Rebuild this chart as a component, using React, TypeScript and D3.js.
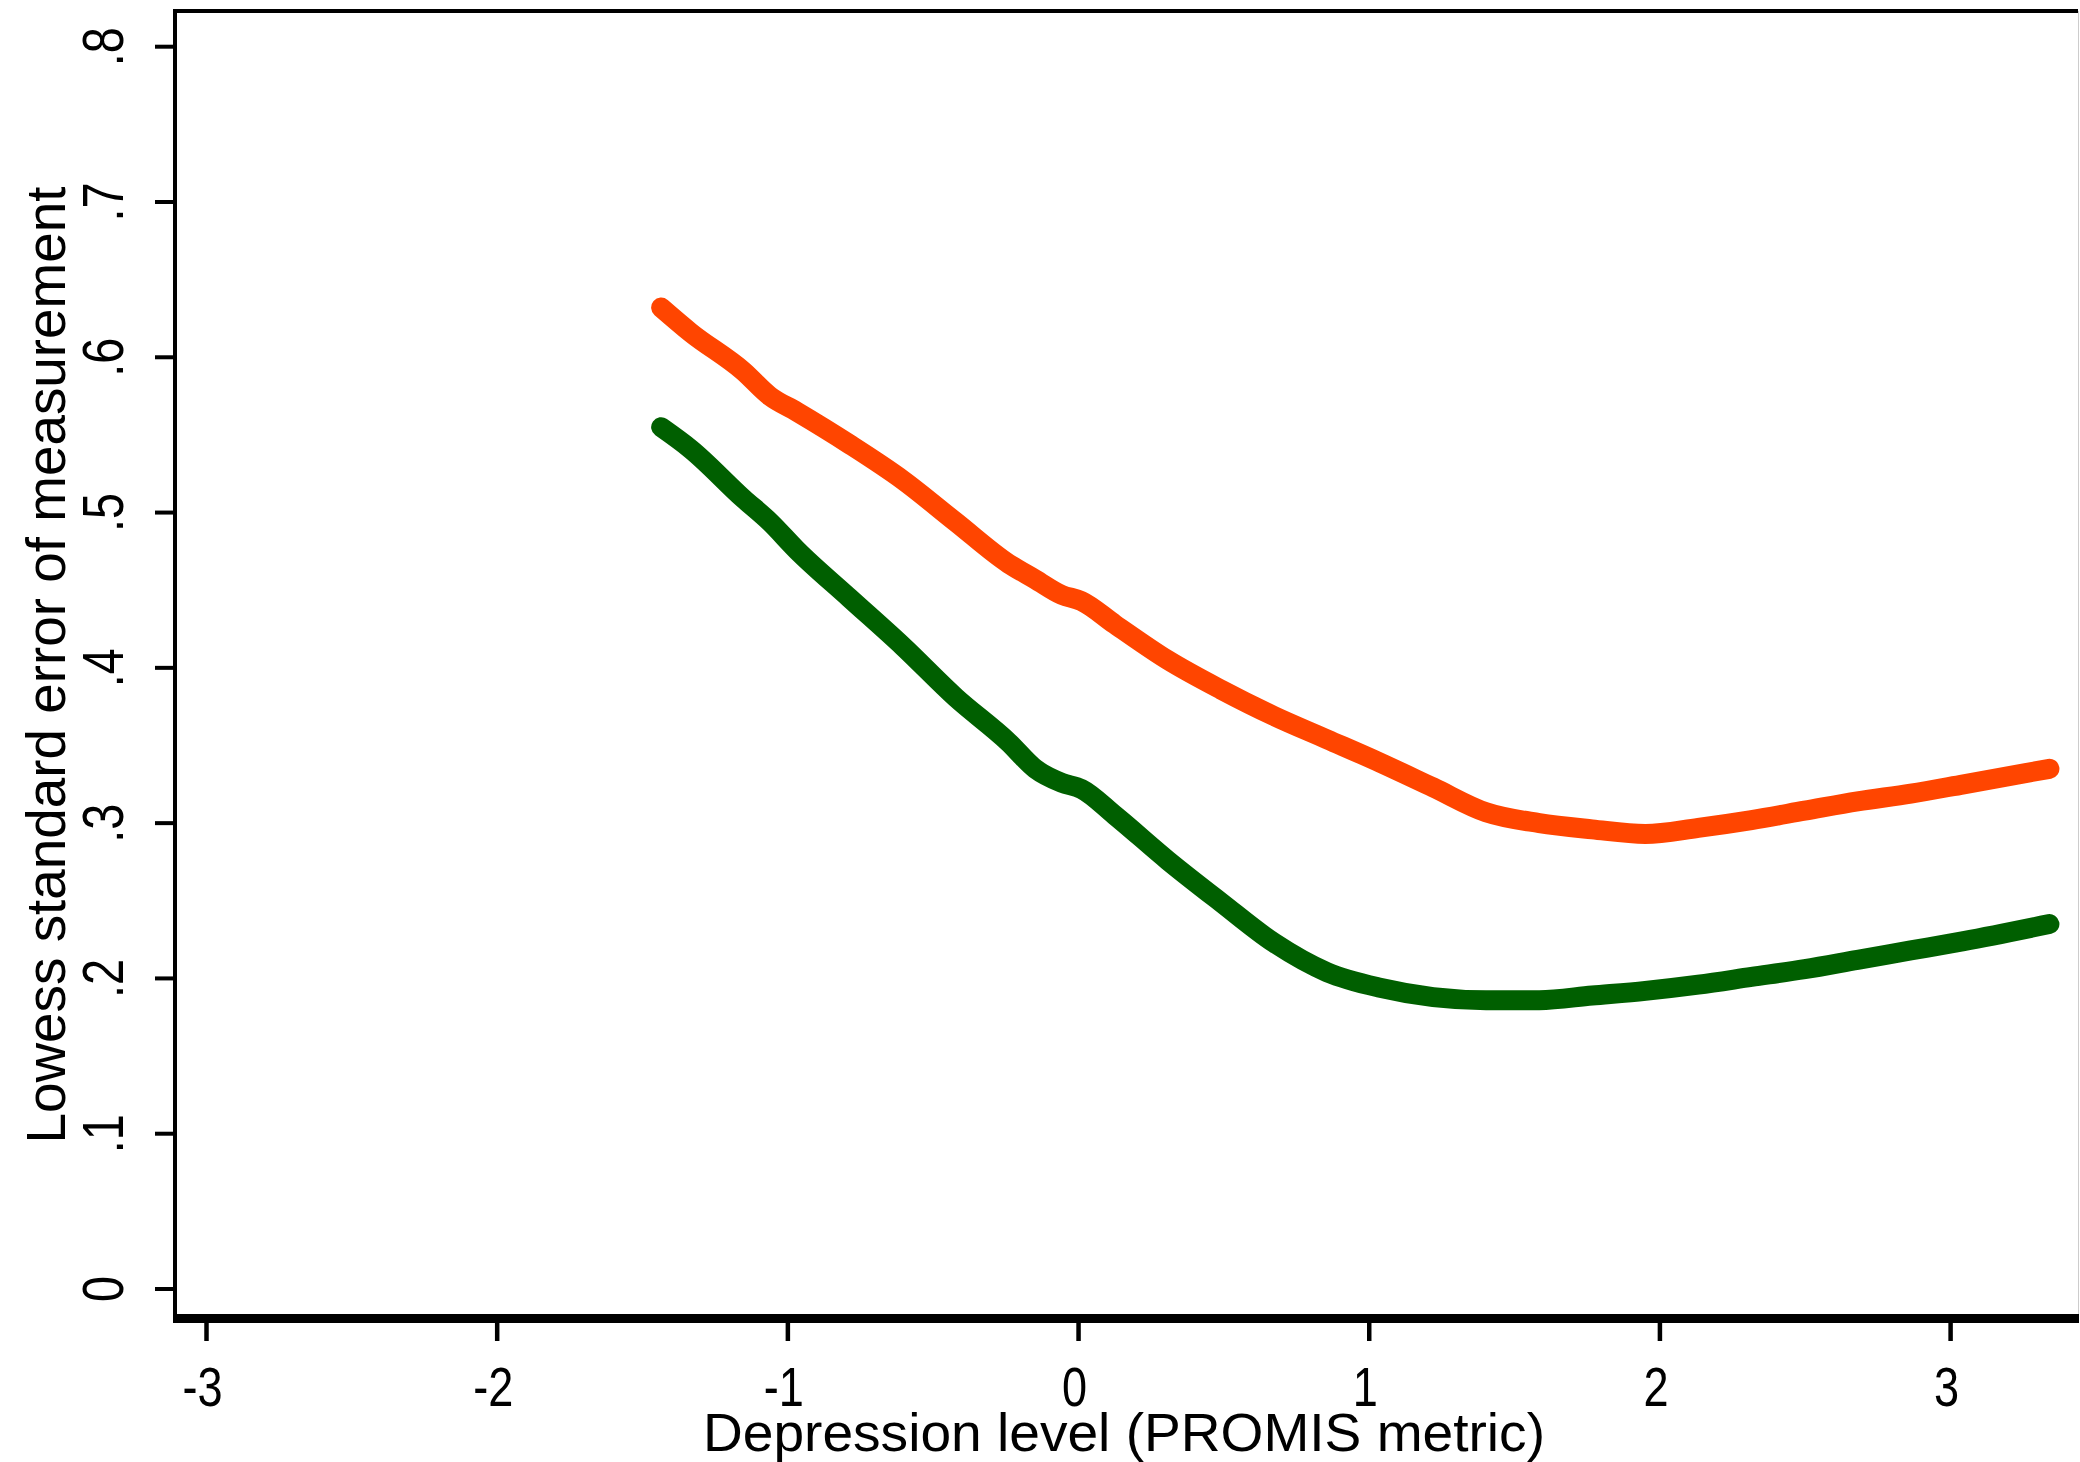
import React from "react";
import * as d3 from "d3";

// Depression level (PROMIS metric) grid shared by both curves
const depressionLevels = [
  -1.436, -1.335, -1.153, -1.062, -0.97, -0.788, -0.605, -0.423, -0.24, -0.149,
  -0.058, 0.01, 0.125, 0.307, 0.49, 0.672, 0.855, 1.037, 1.22, 1.402,
  1.585, 1.767, 1.95, 2.132, 2.315, 2.498, 2.68, 2.863, 3.045, 3.34,
];

// Upper (orange) curve
const orangeSem = [
  0.632, 0.616, 0.591, 0.575, 0.565, 0.544, 0.521, 0.494, 0.467, 0.457,
  0.447, 0.443, 0.428, 0.405, 0.386, 0.369, 0.354, 0.339, 0.323, 0.307,
  0.3, 0.296, 0.293, 0.297, 0.302, 0.308, 0.314, 0.319, 0.325, 0.335,
];

// Lower (green) curve
const greenSem = [
  0.555, 0.541, 0.509, 0.494, 0.476, 0.445, 0.414, 0.381, 0.352, 0.335,
  0.326, 0.322, 0.305, 0.276, 0.249, 0.223, 0.204, 0.194, 0.188, 0.186,
  0.186, 0.189, 0.192, 0.196, 0.201, 0.206, 0.212, 0.218, 0.224, 0.235,
];

const xTicks = [-3, -2, -1, 0, 1, 2, 3];
const yTicks = [0, 0.1, 0.2, 0.3, 0.4, 0.5, 0.6, 0.7, 0.8];
const yTickLabels = ["0", ".1", ".2", ".3", ".4", ".5", ".6", ".7", ".8"];

const xTitle = "Depression level (PROMIS metric)";
const yTitle = "Lowess standard error of measurement";

const font = "'Liberation Sans', Arial, sans-serif";

export default function App() {
  const W = 2080;
  const H = 1462;
  const plot = { left: 175, right: 2078, top: 11, bottom: 1318.5 };

  const xScale = d3.scaleLinear().domain([-3, 3]).range([206.5, 1950.6]);
  const yScale = d3.scaleLinear().domain([0, 0.8]).range([1289, 46.7]);

  const line = d3
    .line<number>()
    .x((_, i) => xScale(depressionLevels[i]))
    .y((d) => yScale(d))
    .curve(d3.curveMonotoneX);

  return (
    <svg
      width={W}
      height={H}
      viewBox={`0 0 ${W} ${H}`}
      style={{ position: "absolute", left: 0, top: 0, background: "#fff" }}
    >
      <rect x={0} y={0} width={W} height={H} fill="#fff" />

      {/* Frame */}
      <line x1={plot.left} x2={plot.right} y1={plot.top} y2={plot.top} stroke="#000" strokeWidth={4} />
      <line x1={plot.right + 0.5} x2={plot.right + 0.5} y1={plot.top} y2={plot.bottom} stroke="#ccc" strokeWidth={1} />
      <line x1={plot.left} x2={plot.left} y1={plot.top - 2} y2={plot.bottom + 4.5} stroke="#000" strokeWidth={4} />
      <line x1={plot.left - 2} x2={plot.right + 1} y1={plot.bottom} y2={plot.bottom} stroke="#000" strokeWidth={9} />

      {/* Y axis ticks + labels */}
      {yTicks.map((t, i) => (
        <g key={i}>
          <line x1={155} x2={plot.left} y1={yScale(t)} y2={yScale(t)} stroke="#000" strokeWidth={4} />
          <text
            transform={`translate(123, ${yScale(t)}) rotate(-90) scale(0.82, 1)`}
            textAnchor="middle"
            style={{ fontFamily: font, fontSize: "57px", fill: "#000" }}
          >
            {yTickLabels[i]}
          </text>
        </g>
      ))}

      {/* X axis ticks + labels */}
      {xTicks.map((t, i) => (
        <g key={i}>
          <line x1={xScale(t)} x2={xScale(t)} y1={plot.bottom + 4.5} y2={1341} stroke="#000" strokeWidth={4.5} />
          <text
            transform={`translate(${xScale(t) - 4}, 1406) scale(0.82, 1)`}
            textAnchor="middle"
            style={{ fontFamily: font, fontSize: "55px", fill: "#000" }}
          >
            {t < 0 ? `-${Math.abs(t)}` : t}
          </text>
        </g>
      ))}

      {/* Curves */}
      <path d={line(orangeSem) ?? ""} fill="none" stroke="#ff4500" strokeWidth={20} strokeLinecap="round" strokeLinejoin="round" />
      <path d={line(greenSem) ?? ""} fill="none" stroke="#005f00" strokeWidth={20} strokeLinecap="round" strokeLinejoin="round" />

      {/* Axis titles */}
      <text
        x={1124}
        y={1451}
        textAnchor="middle"
        textLength={842}
        lengthAdjust="spacingAndGlyphs"
        style={{ fontFamily: font, fontSize: "54px", fill: "#000" }}
      >
        {xTitle}
      </text>
      <text
        transform={`translate(65, 665) rotate(-90)`}
        textAnchor="middle"
        textLength={957}
        lengthAdjust="spacingAndGlyphs"
        style={{ fontFamily: font, fontSize: "56px", fill: "#000" }}
      >
        {yTitle}
      </text>
    </svg>
  );
}
